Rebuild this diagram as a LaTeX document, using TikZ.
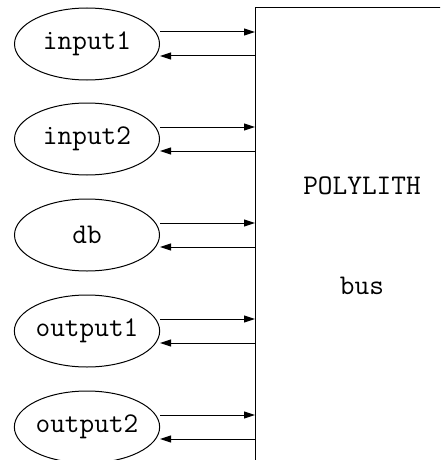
\documentclass[tikz,border=0pt]{standalone}
\usepackage{fontspec}
\usetikzlibrary{shapes.geometric,arrows.meta,calc}

\tikzset{
  label font/.style={font=\ttfamily\fontsize{28.5}{28.5}\selectfont},
  proc/.style={draw, ellipse, line width=1pt, minimum width=145pt,
               minimum height=72pt, inner sep=0pt, label font},
  busbox/.style={draw, rectangle, line width=1pt, minimum width=214pt,
                 minimum height=480pt, anchor=north west, inner sep=0pt},
  buslabel/.style={label font},
  link/.style={line width=1pt, -{Triangle[length=11pt,width=7pt]}},
}

\begin{document}
\begin{tikzpicture}[x=1pt, y=-1pt]
  \useasboundingbox (0,0) rectangle (440,460);
  \clip (0,0) rectangle (440,460);

  % the bus, running off the right and bottom edges
  \node[busbox] (bus) at (255,7) {};
  \node[buslabel] (poly) at (362,186) {POLYLITH};
  \node[buslabel] (busname) at (362,286) {bus};

  % processes attached to the bus
  \node[proc] (in1)  at (87,44)  {input1};
  \node[proc] (in2)  at (87,139) {input2};
  \node[proc] (db)   at (87,235) {db};
  \node[proc] (out1) at (87,331) {output1};
  \node[proc] (out2) at (87,427) {output2};

  % each process sends to and receives from the bus
  \foreach \p in {in1,in2,db,out1,out2} {
    \draw[link] ([yshift=12pt]\p.east) -- ([yshift=12pt]\p.east -| bus.west);
    \draw[link] ([yshift=-12pt]\p.east -| bus.west) -- ([yshift=-12pt]\p.east);
  }
\end{tikzpicture}
\end{document}
